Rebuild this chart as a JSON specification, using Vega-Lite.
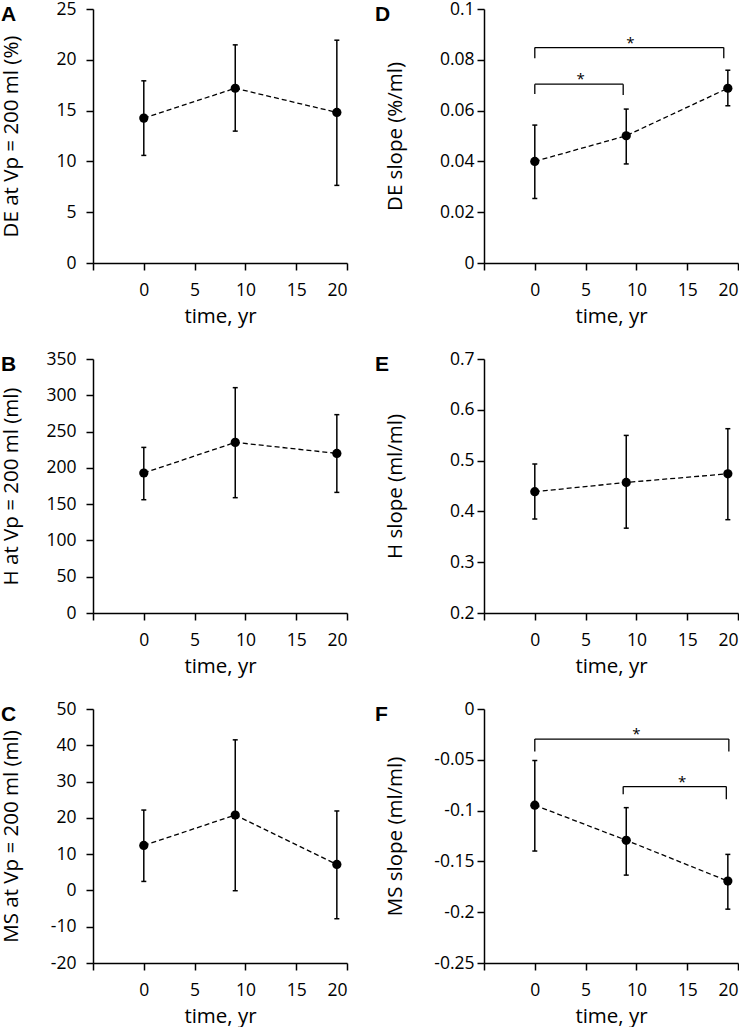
{
  "$schema": "https://vega.github.io/schema/vega-lite/v6.json",
  "background": "white",
  "padding": {"left": 0, "top": 0, "right": 0, "bottom": 0},
  "columns": 2,
  "align": "each",
  "spacing": {"row": 23, "column": 26},
  "config": {
    "locale": {"number": {"decimal": ".", "thousands": ",", "grouping": [3], "currency": ["$", ""], "minus": "-"}},
    "view": {"stroke": null},
    "axis": {
      "grid": false,
      "domainColor": "black", "domainWidth": 1.5,
      "tickColor": "black", "tickWidth": 1.5, "tickSize": 7,
      "labelFont": "Open Sans", "labelFontSize": 17.5, "labelColor": "black",
      "titleFont": "Open Sans", "titleFontSize": 20.5, "titleFontWeight": "normal", "titleColor": "black"
    },
    "title": {"font": "Liberation Sans", "fontSize": 21, "fontWeight": "bold", "color": "black", "anchor": "start", "frame": "bounds", "offset": -25}
  },
  "concat": [
    {
      "width": 254, "height": 254,
      "title": {"text": "A"},
      "data": {"values": [
        {"time": 0, "mean": 14.26, "lo": 10.59, "hi": 17.93},
        {"time": 9, "mean": 17.2, "lo": 12.98, "hi": 21.47},
        {"time": 19, "mean": 14.82, "lo": 7.64, "hi": 21.93}
      ]},
      "encoding": {"x": {"field": "time", "type": "quantitative", "scale": {"domain": [-5, 20], "nice": false, "zero": false},
        "axis": {"values": [-5, 0, 5, 10, 15, 20], "tickCount": 20, "labelExpr": "datum.value == -5 ? '' : datum.label", "labelPadding": 11, "titlePadding": 8, "title": "time, yr"}}},
      "layer": [
        {"mark": {"type": "line", "color": "black", "strokeWidth": 1.3, "strokeDash": [5, 3]},
         "encoding": {"y": {"field": "mean", "type": "quantitative", "scale": {"domain": [0, 25], "nice": false, "zero": false},
           "axis": {"values": [0, 5, 10, 15, 20, 25], "tickCount": 20, "labelPadding": 10, "title": "DE at Vp = 200 ml (%)", "titleX": -82, "titleBaseline": "middle"}}}},
        {"mark": {"type": "rule", "color": "black", "strokeWidth": 1.5}, "encoding": {"y": {"field": "lo", "type": "quantitative"}, "y2": {"field": "hi"}}},
        {"mark": {"type": "tick", "orient": "horizontal", "color": "black", "size": 5, "thickness": 1.5, "opacity": 1}, "encoding": {"y": {"field": "lo", "type": "quantitative"}}},
        {"mark": {"type": "tick", "orient": "horizontal", "color": "black", "size": 5, "thickness": 1.5, "opacity": 1}, "encoding": {"y": {"field": "hi", "type": "quantitative"}}},
        {"mark": {"type": "circle", "color": "black", "size": 85, "opacity": 1}, "encoding": {"y": {"field": "mean", "type": "quantitative"}}}
      ]
    },
    {
      "width": 254, "height": 254,
      "title": {"text": "D", "dx": -10},
      "data": {"values": [
        {"time": 0, "mean": 0.04, "lo": 0.0254, "hi": 0.0543},
        {"time": 9, "mean": 0.0501, "lo": 0.039, "hi": 0.0606},
        {"time": 19, "mean": 0.0688, "lo": 0.0619, "hi": 0.0759}
      ]},
      "encoding": {"x": {"field": "time", "type": "quantitative", "scale": {"domain": [-5, 20], "nice": false, "zero": false},
        "axis": {"values": [-5, 0, 5, 10, 15, 20], "tickCount": 20, "labelExpr": "datum.value == -5 ? '' : datum.label", "labelPadding": 11, "titlePadding": 8, "title": "time, yr"}}},
      "layer": [
        {"mark": {"type": "line", "color": "black", "strokeWidth": 1.3, "strokeDash": [5, 3]},
         "encoding": {"y": {"field": "mean", "type": "quantitative", "scale": {"domain": [0, 0.1], "nice": false, "zero": false},
           "axis": {"values": [0, 0.02, 0.04, 0.06, 0.08, 0.1], "tickCount": 20, "format": "~g", "labelPadding": 3, "title": "DE slope (%/ml)", "titleX": -89, "titleBaseline": "middle"}}}},
        {"mark": {"type": "rule", "color": "black", "strokeWidth": 1.5}, "encoding": {"y": {"field": "lo", "type": "quantitative"}, "y2": {"field": "hi"}}},
        {"mark": {"type": "tick", "orient": "horizontal", "color": "black", "size": 5, "thickness": 1.5, "opacity": 1}, "encoding": {"y": {"field": "lo", "type": "quantitative"}}},
        {"mark": {"type": "tick", "orient": "horizontal", "color": "black", "size": 5, "thickness": 1.5, "opacity": 1}, "encoding": {"y": {"field": "hi", "type": "quantitative"}}},
        {"mark": {"type": "circle", "color": "black", "size": 85, "opacity": 1}, "encoding": {"y": {"field": "mean", "type": "quantitative"}}},
        {"data": {"values": [
          {"bx": 0, "bx2": 8.7, "by": 0.0704, "by2": 0.0704},
          {"bx": 0, "bx2": 0, "by": 0.0704, "by2": 0.0665},
          {"bx": 8.7, "bx2": 8.7, "by": 0.0704, "by2": 0.0661},
          {"bx": 0, "bx2": 18.6, "by": 0.0848, "by2": 0.0848},
          {"bx": 0, "bx2": 0, "by": 0.0848, "by2": 0.0806},
          {"bx": 18.6, "bx2": 18.6, "by": 0.0848, "by2": 0.0806}
        ]},
         "mark": {"type": "rule", "color": "black", "strokeWidth": 1.3},
         "encoding": {"x": {"field": "bx", "type": "quantitative"}, "x2": {"field": "bx2"}, "y": {"field": "by", "type": "quantitative"}, "y2": {"field": "by2"}}},
        {"data": {"values": [{"sx": 4.5, "sy": 0.0704, "label": "*"}, {"sx": 9.4, "sy": 0.0848, "label": "*"}]},
         "mark": {"type": "text", "font": "Open Sans", "fontSize": 15, "color": "black", "align": "center", "baseline": "alphabetic"},
         "encoding": {"x": {"field": "sx", "type": "quantitative"}, "y": {"field": "sy", "type": "quantitative"}, "text": {"field": "label"}}}
      ]
    },
    {
      "width": 254, "height": 254,
      "title": {"text": "B"},
      "data": {"values": [
        {"time": 0, "mean": 192.9, "lo": 156.1, "hi": 228.2},
        {"time": 9, "mean": 235.1, "lo": 158.9, "hi": 310.5},
        {"time": 19, "mean": 219.9, "lo": 166.2, "hi": 273.3}
      ]},
      "encoding": {"x": {"field": "time", "type": "quantitative", "scale": {"domain": [-5, 20], "nice": false, "zero": false},
        "axis": {"values": [-5, 0, 5, 10, 15, 20], "tickCount": 20, "labelExpr": "datum.value == -5 ? '' : datum.label", "labelPadding": 11, "titlePadding": 8, "title": "time, yr"}}},
      "layer": [
        {"mark": {"type": "line", "color": "black", "strokeWidth": 1.3, "strokeDash": [5, 3]},
         "encoding": {"y": {"field": "mean", "type": "quantitative", "scale": {"domain": [0, 350], "nice": false, "zero": false},
           "axis": {"values": [0, 50, 100, 150, 200, 250, 300, 350], "tickCount": 20, "labelPadding": 10, "title": "H at Vp = 200 ml (ml)", "titleX": -82, "titleBaseline": "middle"}}}},
        {"mark": {"type": "rule", "color": "black", "strokeWidth": 1.5}, "encoding": {"y": {"field": "lo", "type": "quantitative"}, "y2": {"field": "hi"}}},
        {"mark": {"type": "tick", "orient": "horizontal", "color": "black", "size": 5, "thickness": 1.5, "opacity": 1}, "encoding": {"y": {"field": "lo", "type": "quantitative"}}},
        {"mark": {"type": "tick", "orient": "horizontal", "color": "black", "size": 5, "thickness": 1.5, "opacity": 1}, "encoding": {"y": {"field": "hi", "type": "quantitative"}}},
        {"mark": {"type": "circle", "color": "black", "size": 85, "opacity": 1}, "encoding": {"y": {"field": "mean", "type": "quantitative"}}}
      ]
    },
    {
      "width": 254, "height": 254,
      "title": {"text": "E", "dx": -10},
      "data": {"values": [
        {"time": 0, "mean": 0.4388, "lo": 0.385, "hi": 0.4933},
        {"time": 9, "mean": 0.457, "lo": 0.367, "hi": 0.5496},
        {"time": 19, "mean": 0.474, "lo": 0.3837, "hi": 0.5628}
      ]},
      "encoding": {"x": {"field": "time", "type": "quantitative", "scale": {"domain": [-5, 20], "nice": false, "zero": false},
        "axis": {"values": [-5, 0, 5, 10, 15, 20], "tickCount": 20, "labelExpr": "datum.value == -5 ? '' : datum.label", "labelPadding": 11, "titlePadding": 8, "title": "time, yr"}}},
      "layer": [
        {"mark": {"type": "line", "color": "black", "strokeWidth": 1.3, "strokeDash": [5, 3]},
         "encoding": {"y": {"field": "mean", "type": "quantitative", "scale": {"domain": [0.2, 0.7], "nice": false, "zero": false},
           "axis": {"values": [0.2, 0.3, 0.4, 0.5, 0.6, 0.7], "tickCount": 20, "format": "~g", "labelPadding": 3, "title": "H slope (ml/ml)", "titleX": -89, "titleBaseline": "middle"}}}},
        {"mark": {"type": "rule", "color": "black", "strokeWidth": 1.5}, "encoding": {"y": {"field": "lo", "type": "quantitative"}, "y2": {"field": "hi"}}},
        {"mark": {"type": "tick", "orient": "horizontal", "color": "black", "size": 5, "thickness": 1.5, "opacity": 1}, "encoding": {"y": {"field": "lo", "type": "quantitative"}}},
        {"mark": {"type": "tick", "orient": "horizontal", "color": "black", "size": 5, "thickness": 1.5, "opacity": 1}, "encoding": {"y": {"field": "hi", "type": "quantitative"}}},
        {"mark": {"type": "circle", "color": "black", "size": 85, "opacity": 1}, "encoding": {"y": {"field": "mean", "type": "quantitative"}}}
      ]
    },
    {
      "width": 254, "height": 254,
      "title": {"text": "C"},
      "data": {"values": [
        {"time": 0, "mean": 12.4, "lo": 2.48, "hi": 22.15},
        {"time": 9, "mean": 20.77, "lo": -0.08, "hi": 41.5},
        {"time": 19, "mean": 7.16, "lo": -7.8, "hi": 21.9}
      ]},
      "encoding": {"x": {"field": "time", "type": "quantitative", "scale": {"domain": [-5, 20], "nice": false, "zero": false},
        "axis": {"values": [-5, 0, 5, 10, 15, 20], "tickCount": 20, "labelExpr": "datum.value == -5 ? '' : datum.label", "labelPadding": 11, "titlePadding": 8, "title": "time, yr"}}},
      "layer": [
        {"mark": {"type": "line", "color": "black", "strokeWidth": 1.3, "strokeDash": [5, 3]},
         "encoding": {"y": {"field": "mean", "type": "quantitative", "scale": {"domain": [-20, 50], "nice": false, "zero": false},
           "axis": {"values": [-20, -10, 0, 10, 20, 30, 40, 50], "tickCount": 20, "labelPadding": 10, "title": "MS at Vp = 200 ml (ml)", "titleX": -82, "titleBaseline": "middle"}}}},
        {"mark": {"type": "rule", "color": "black", "strokeWidth": 1.5}, "encoding": {"y": {"field": "lo", "type": "quantitative"}, "y2": {"field": "hi"}}},
        {"mark": {"type": "tick", "orient": "horizontal", "color": "black", "size": 5, "thickness": 1.5, "opacity": 1}, "encoding": {"y": {"field": "lo", "type": "quantitative"}}},
        {"mark": {"type": "tick", "orient": "horizontal", "color": "black", "size": 5, "thickness": 1.5, "opacity": 1}, "encoding": {"y": {"field": "hi", "type": "quantitative"}}},
        {"mark": {"type": "circle", "color": "black", "size": 85, "opacity": 1}, "encoding": {"y": {"field": "mean", "type": "quantitative"}}}
      ]
    },
    {
      "width": 254, "height": 254,
      "title": {"text": "F", "dx": -10},
      "data": {"values": [
        {"time": 0, "mean": -0.0947, "lo": -0.1398, "hi": -0.0507},
        {"time": 9, "mean": -0.1292, "lo": -0.1635, "hi": -0.0971},
        {"time": 19, "mean": -0.1694, "lo": -0.197, "hi": -0.1431}
      ]},
      "encoding": {"x": {"field": "time", "type": "quantitative", "scale": {"domain": [-5, 20], "nice": false, "zero": false},
        "axis": {"values": [-5, 0, 5, 10, 15, 20], "tickCount": 20, "labelExpr": "datum.value == -5 ? '' : datum.label", "labelPadding": 11, "titlePadding": 8, "title": "time, yr"}}},
      "layer": [
        {"mark": {"type": "line", "color": "black", "strokeWidth": 1.3, "strokeDash": [5, 3]},
         "encoding": {"y": {"field": "mean", "type": "quantitative", "scale": {"domain": [-0.25, 0], "nice": false, "zero": false},
           "axis": {"values": [-0.25, -0.2, -0.15, -0.1, -0.05, 0], "tickCount": 20, "format": "~g", "labelPadding": 3, "title": "MS slope (ml/ml)", "titleX": -89, "titleBaseline": "middle"}}}},
        {"mark": {"type": "rule", "color": "black", "strokeWidth": 1.5}, "encoding": {"y": {"field": "lo", "type": "quantitative"}, "y2": {"field": "hi"}}},
        {"mark": {"type": "tick", "orient": "horizontal", "color": "black", "size": 5, "thickness": 1.5, "opacity": 1}, "encoding": {"y": {"field": "lo", "type": "quantitative"}}},
        {"mark": {"type": "tick", "orient": "horizontal", "color": "black", "size": 5, "thickness": 1.5, "opacity": 1}, "encoding": {"y": {"field": "hi", "type": "quantitative"}}},
        {"mark": {"type": "circle", "color": "black", "size": 85, "opacity": 1}, "encoding": {"y": {"field": "mean", "type": "quantitative"}}},
        {"data": {"values": [
          {"bx": 0, "bx2": 19.1, "by": -0.0296, "by2": -0.0296},
          {"bx": 0, "bx2": 0, "by": -0.0296, "by2": -0.0418},
          {"bx": 19.1, "bx2": 19.1, "by": -0.0296, "by2": -0.0418},
          {"bx": 8.7, "bx2": 18.85, "by": -0.0764, "by2": -0.0764},
          {"bx": 8.7, "bx2": 8.7, "by": -0.0764, "by2": -0.0839},
          {"bx": 18.85, "bx2": 18.85, "by": -0.0764, "by2": -0.0888}
        ]},
         "mark": {"type": "rule", "color": "black", "strokeWidth": 1.3},
         "encoding": {"x": {"field": "bx", "type": "quantitative"}, "x2": {"field": "bx2"}, "y": {"field": "by", "type": "quantitative"}, "y2": {"field": "by2"}}},
        {"data": {"values": [{"sx": 10.0, "sy": -0.0296, "label": "*"}, {"sx": 14.5, "sy": -0.0764, "label": "*"}]},
         "mark": {"type": "text", "font": "Open Sans", "fontSize": 15, "color": "black", "align": "center", "baseline": "alphabetic"},
         "encoding": {"x": {"field": "sx", "type": "quantitative"}, "y": {"field": "sy", "type": "quantitative"}, "text": {"field": "label"}}}
      ]
    }
  ]
}
